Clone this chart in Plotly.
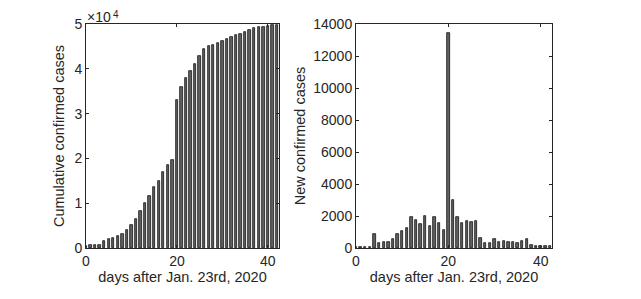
import plotly.graph_objects as go

days = list(range(43))
cumulative = [495, 572, 618, 698, 1590, 1905, 2261, 2639, 3215, 4109, 5142, 6384, 8351,
              10117, 11618, 13603, 14982, 16902, 18454, 19558, 32994, 35991, 37914, 39462,
              41152, 42752, 44412, 45027, 45346, 45660, 46201, 46607, 47071, 47441, 47824,
              48137, 48557, 49122, 49315, 49426, 49540, 49671, 49797]
new_cases = [70, 77, 46, 80, 892, 315, 356, 378, 576, 894, 1033, 1242, 1967, 1766, 1501,
             1985, 1379, 1920, 1552, 1104, 13436, 2997, 1923, 1548, 1690, 1600, 1660, 615,
             319, 314, 541, 406, 464, 370, 383, 313, 420, 565, 193, 111, 114, 131, 126]
x_ticks = [0, 20, 40]
left_ticks = [0, 10000, 20000, 30000, 40000, 50000]
left_labels = ["0", "1", "2", "3", "4", "5"]
right_ticks = [0, 2000, 4000, 6000, 8000, 10000, 12000, 14000]
right_labels = ["0", "2000", "4000", "6000", "8000", "10000", "12000", "14000"]
x_title = "days after Jan. 23rd, 2020"

# page body has an 8px margin: draw in a 625x283 figure offset by 8px
OFF = 8
W, H = 641 - 2 * OFF, 299 - 2 * OFF
FONT = "Liberation Sans, Arial, sans-serif"
TXT = "#262626"

fig = go.Figure()
bar_style = dict(marker=dict(color="#606060", line=dict(color="black", width=0.7)),
                 width=0.52, showlegend=False, hoverinfo="skip")
fig.add_trace(go.Bar(x=days, y=cumulative, xaxis="x", yaxis="y", **bar_style))
fig.add_trace(go.Bar(x=days, y=new_cases, xaxis="x2", yaxis="y2", **bar_style))

def px_x(p):
    return (p - OFF) / W

def px_y(p):
    return 1 - (p - OFF) / H

axis_common = dict(showline=True, linecolor=TXT, linewidth=1, mirror="ticks",
                   ticks="inside", ticklen=3, tickcolor=TXT, tickwidth=1,
                   showgrid=False, zeroline=False, automargin=False,
                   tickfont=dict(family=FONT, size=14, color=TXT),
                   title_font=dict(family=FONT, size=14.5, color=TXT))

fig.update_layout(
    width=W, height=H, margin=dict(l=0, r=0, t=0, b=0),
    paper_bgcolor="white", plot_bgcolor="white", bargap=0,
    xaxis=dict(domain=[px_x(86), px_x(279)], range=[0, 42.45], tickvals=x_ticks,
               anchor="y", title=dict(text=x_title, standoff=2), **axis_common),
    yaxis=dict(domain=[px_y(248), px_y(24)], range=[0, 50000], tickvals=left_ticks,
               ticktext=left_labels, anchor="x",
               title=dict(text="Cumulative confirmed cases", standoff=6), **axis_common),
    xaxis2=dict(domain=[px_x(356), px_x(552)], range=[0, 42.45], tickvals=x_ticks,
                anchor="y2", title=dict(text=x_title, standoff=2), **axis_common),
    yaxis2=dict(domain=[px_y(248), px_y(24)], range=[0, 14000], tickvals=right_ticks,
                ticktext=right_labels, anchor="x2",
                title=dict(text="New confirmed cases", standoff=4), **axis_common),
    annotations=[
        dict(text="\u00d710", x=px_x(86), y=px_y(8), xref="paper", yref="paper",
             xanchor="left", yanchor="top", showarrow=False, borderpad=0,
             font=dict(family=FONT, size=14, color=TXT)),
        dict(text="4", x=px_x(111.5), y=px_y(8), xref="paper", yref="paper",
             xanchor="left", yanchor="top", showarrow=False, borderpad=0,
             font=dict(family=FONT, size=10, color=TXT)),
    ],
)

fig.write_html("out.html")
